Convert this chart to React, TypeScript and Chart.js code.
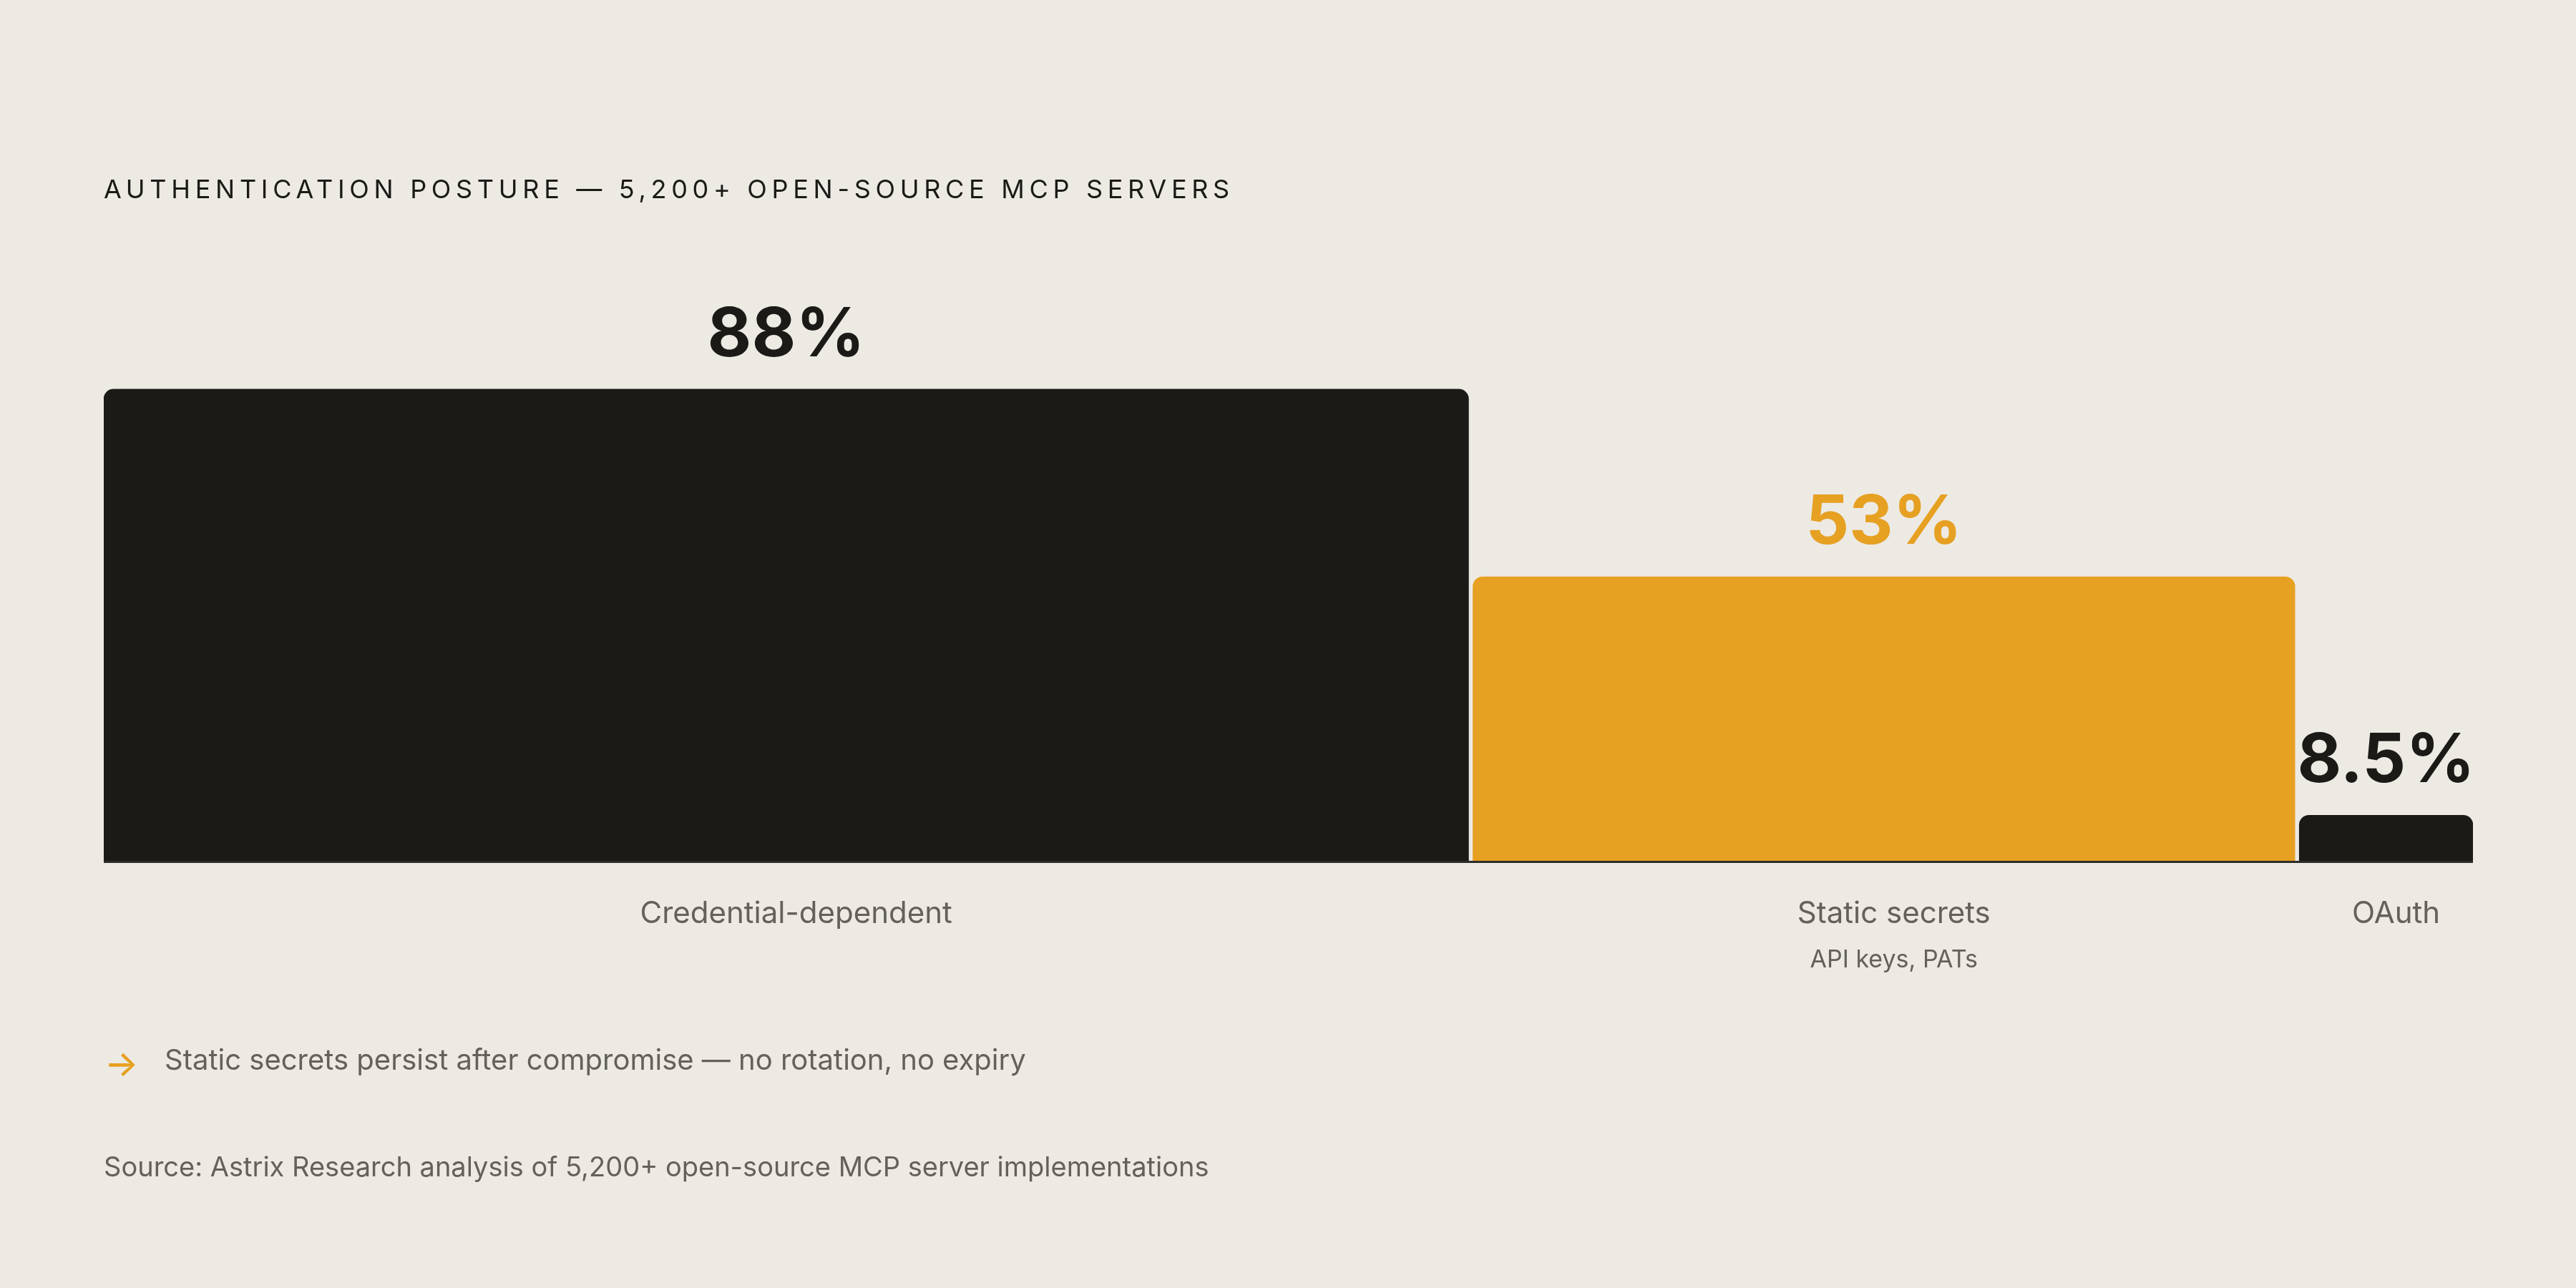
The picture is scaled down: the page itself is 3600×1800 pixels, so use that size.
import React, { useEffect, useRef } from 'react';
import { Chart, registerables } from 'chart.js';
import type { Plugin } from 'chart.js';

Chart.register(...registerables);

// data
const CATEGORIES = ['Credential-dependent', 'Static secrets', 'OAuth'];
const SUB_LABELS = ['', 'API keys, PATs', ''];
const SHARES = [88, 53, 8.5];
const VALUE_LABELS = ['88%', '53%', '8.5%'];

const TITLE = 'AUTHENTICATION POSTURE — 5,200+ OPEN-SOURCE MCP SERVERS';
const NOTE = 'Static secrets persist after compromise — no rotation, no expiry';
const SOURCE = 'Source: Astrix Research analysis of 5,200+ open-source MCP server implementations';

// layout / style
const W = 3600;
const H = 1800;
const PAD = { left: 145, right: 144, top: 454, bottom: 597 };
const MIN_SPAN = 11.2; // smallest bar still gets room for its label
const GAP = 0.28;
const Y_MAX = 100;
const LABEL_NUDGE = 14; // category labels sit a touch right of bar centre

const BG = '#edeae4';
const INK = '#1c1a17';
const ORANGE = '#e6a022';
const MUTED = '#64615c';
const BAR_COLORS = [INK, ORANGE, INK];
const FONT = 'Inter, "DejaVu Sans", sans-serif';

const spans = SHARES.map(s => Math.max(s, MIN_SPAN));
const starts = spans.map((_, i) => spans.slice(0, i).reduce((a, b) => a + b, 0) + GAP * i);
const X_MAX = starts[starts.length - 1] + spans[spans.length - 1];
const pxPerUnit = (W - PAD.left - PAD.right) / X_MAX;

const labelsPlugin: Plugin<'bar'> = {
  id: 'barLabels',
  afterDatasetsDraw(chart) {
    const { ctx, chartArea, scales } = chart;
    const base = scales.y.getPixelForValue(0);
    ctx.save();
    // baseline rule
    ctx.fillStyle = '#2f2d2a';
    ctx.fillRect(chartArea.left, base, chartArea.right - chartArea.left, 3);
    ctx.textAlign = 'center';
    ctx.textBaseline = 'alphabetic';
    chart.data.datasets.forEach((_, i) => {
      const bar = chart.getDatasetMeta(i).data[0] as any;
      ctx.font = `700 95px ${FONT}`;
      ctx.fillStyle = BAR_COLORS[i];
      ctx.fillText(VALUE_LABELS[i], bar.x, bar.y - 46);
      ctx.font = `400 42px ${FONT}`;
      ctx.fillStyle = MUTED;
      ctx.fillText(CATEGORIES[i], bar.x + LABEL_NUDGE, base + 87);
      if (SUB_LABELS[i]) {
        ctx.font = `400 34px ${FONT}`;
        ctx.fillText(SUB_LABELS[i], bar.x + LABEL_NUDGE, base + 149);
      }
    });
    ctx.restore();
  },
};

export default function App() {
  const canvasRef = useRef<HTMLCanvasElement>(null);
  const chartRef = useRef<Chart | null>(null);

  useEffect(() => {
    if (!canvasRef.current) return;
    if (chartRef.current) chartRef.current.destroy();

    chartRef.current = new Chart(canvasRef.current, {
      type: 'bar',
      data: {
        datasets: SHARES.map((v, i) => ({
          label: CATEGORIES[i],
          data: [{ x: starts[i] + spans[i] / 2, y: v }],
          backgroundColor: BAR_COLORS[i],
          barThickness: spans[i] * pxPerUnit,
          grouped: false,
          borderRadius: 14,
          borderSkipped: 'start',
        })) as any,
      },
      options: {
        responsive: false,
        animation: false,
        layout: { padding: PAD },
        scales: {
          x: { type: 'linear', min: 0, max: X_MAX, offset: false, display: false },
          y: { min: 0, max: Y_MAX, display: false },
        },
        plugins: {
          legend: { display: false },
          tooltip: { enabled: false },
        },
      },
      plugins: [labelsPlugin],
    });

    return () => {
      if (chartRef.current) {
        chartRef.current.destroy();
        chartRef.current = null;
      }
    };
  }, []);

  return (
    <div style={{ position: 'absolute', left: 0, top: 0, width: W, height: H, background: BG, fontFamily: FONT, overflow: 'hidden' }}>
      <canvas ref={canvasRef} width={W} height={H} style={{ position: 'absolute', left: 0, top: 0 }} />
      <div style={{ position: 'absolute', left: 145, top: 246, fontSize: 36, lineHeight: 1, letterSpacing: 6.7, color: INK, whiteSpace: 'nowrap' }}>
        {TITLE}
      </div>
      <div style={{ position: 'absolute', left: 146, top: 1461, fontSize: 50, fontWeight: 500, lineHeight: 1, color: ORANGE }}>→</div>
      <div style={{ position: 'absolute', left: 230, top: 1461, fontSize: 40, lineHeight: 1, color: MUTED, whiteSpace: 'nowrap' }}>
        {NOTE}
      </div>
      <div style={{ position: 'absolute', left: 145, top: 1611, fontSize: 38, lineHeight: 1, color: MUTED, whiteSpace: 'nowrap' }}>
        {SOURCE}
      </div>
    </div>
  );
}
